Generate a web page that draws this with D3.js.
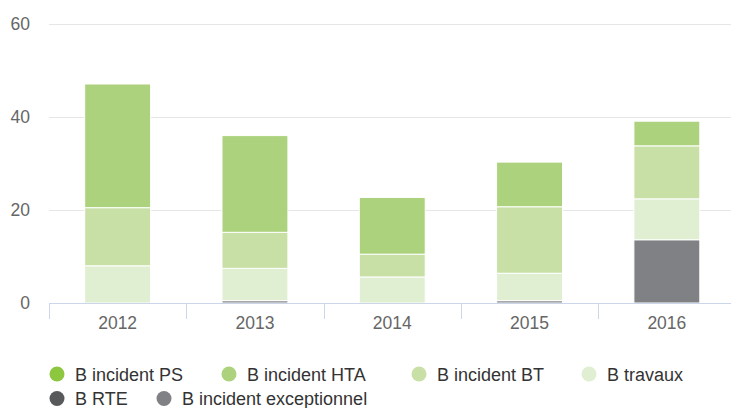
<!DOCTYPE html>
<html>
<head>
<meta charset="utf-8">
<script src="https://cdn.jsdelivr.net/npm/d3@7"></script>
<style>
  html, body { margin: 0; padding: 0; background: #fff; }
  svg { display: block; font-family: "Liberation Sans", Arial, Helvetica, sans-serif; }
</style>
</head>
<body>
<svg id="chart" width="731" height="408"></svg>
<script>
// ---- Data ----
const years = ["2012", "2013", "2014", "2015", "2016"];
const seriesNames = ["B incident PS", "B incident HTA", "B incident BT", "B travaux", "B RTE", "B incident exceptionnel"];
const seriesColors = ["#8dc63f", "#acd27d", "#c8e0a6", "#e0eed2", "#58595b", "#808184"];
const incidentPS          = [0, 0, 0, 0, 0];
const incidentHTA         = [26.6, 20.8, 12.2, 9.6, 5.3];
const incidentBT          = [12.5, 7.75, 4.9, 14.3, 11.4];
const travaux             = [8.0, 6.95, 5.6, 5.9, 8.8];
const rte                 = [0, 0, 0, 0, 0];
const incidentExceptionnel= [0, 0.5, 0, 0.5, 13.6];
const yTicks = [0, 20, 40, 60];

const seriesValues = [incidentPS, incidentHTA, incidentBT, travaux, rte, incidentExceptionnel];

(function () {
// ---- Layout ----
const svg = d3.select("#chart");
const pLeft = 49, pRight = 735.5, pTop = 24, pBottom = 303;

const x = d3.scaleBand().domain(years).range([pLeft, pRight]).padding(0);
const y = d3.scaleLinear().domain([0, 60]).range([pBottom, pTop]);

// gridlines
svg.append("g").selectAll("line").data(yTicks.filter(d => d > 0)).join("line")
  .attr("x1", pLeft).attr("x2", 731)
  .attr("y1", d => Math.round(y(d)) + 0.5).attr("y2", d => Math.round(y(d)) + 0.5)
  .attr("stroke", "#e6e6e6").attr("stroke-width", 1);

// y labels
svg.append("g").selectAll("text").data(yTicks).join("text")
  .attr("x", 30).attr("y", d => y(d) + 6)
  .attr("text-anchor", "end")
  .attr("font-size", "17.5px").attr("fill", "#666666")
  .text(d => d);

// stacked data: bottom = last series
const table = years.map((yr, i) => {
  const row = { year: yr };
  seriesNames.forEach((s, k) => row[s] = seriesValues[k][i]);
  return row;
});
const stackOrder = seriesNames.slice().reverse();
const stack = d3.stack().keys(stackOrder)(table);
const colorOf = d3.scaleOrdinal().domain(seriesNames).range(seriesColors);

const bw = x.bandwidth() * 0.48;
svg.append("g").selectAll("g").data(stack).join("g")
  .attr("fill", d => colorOf(d.key))
  .selectAll("rect").data(d => d.filter(p => p[1] - p[0] > 0)).join("rect")
  .attr("x", p => x(p.data.year) + (x.bandwidth() - bw) / 2)
  .attr("width", bw)
  .attr("y", p => y(p[1]))
  .attr("height", p => y(p[0]) - y(p[1]))
  .attr("stroke", "#ffffff").attr("stroke-width", 1);

// x axis line
svg.append("line")
  .attr("x1", pLeft).attr("x2", 731)
  .attr("y1", pBottom + 0.5).attr("y2", pBottom + 0.5)
  .attr("stroke", "#ccd6eb").attr("stroke-width", 1);

// ticks at band boundaries
svg.append("g").selectAll("line").data(years).join("line")
  .attr("x1", d => Math.round(x(d)) + 0.5).attr("x2", d => Math.round(x(d)) + 0.5)
  .attr("y1", pBottom).attr("y2", pBottom + 16)
  .attr("stroke", "#ccd6eb").attr("stroke-width", 1);

// x labels
svg.append("g").selectAll("text").data(years).join("text")
  .attr("x", d => x(d) + x.bandwidth() / 2)
  .attr("y", 329)
  .attr("text-anchor", "middle")
  .attr("font-size", "17.5px").attr("fill", "#666666")
  .text(d => d);

// legend
const legendPos = [
  [57, 374], [229, 374], [419, 374], [589, 374],
  [57, 398.5], [164, 398.5]
];
const lg = svg.append("g").selectAll("g").data(seriesNames).join("g")
  .attr("transform", (d, i) => `translate(${legendPos[i][0]},${legendPos[i][1]})`);
lg.append("circle").attr("r", 7.5).attr("fill", d => colorOf(d));
lg.append("text").attr("x", 18).attr("y", 6.5)
  .attr("font-size", "18px").attr("fill", "#333333")
  .text(d => d);
})();
</script>
</body>
</html>
